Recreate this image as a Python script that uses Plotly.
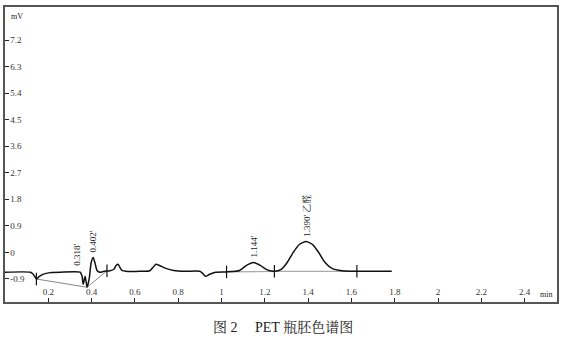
import plotly.graph_objects as go

# chromatogram trace (time in min, signal in mV)
t = [0.000, 0.117, 0.128, 0.138, 0.145, 0.156, 0.170, 0.190, 0.215, 0.255, 0.347, 0.356,
     0.361, 0.370, 0.379, 0.389, 0.398, 0.407, 0.416, 0.425, 0.439, 0.457,
     0.485, 0.503, 0.513, 0.522, 0.531, 0.540, 0.559, 0.623, 0.669, 0.683,
     0.697, 0.715, 0.743, 0.779, 0.830, 0.899, 0.913, 0.926, 0.945, 0.972,
     1.023, 1.083, 1.115, 1.147, 1.179, 1.211, 1.244, 1.276, 1.303, 1.331,
     1.359, 1.391, 1.423, 1.451, 1.478, 1.510, 1.556, 1.625, 1.726, 1.786]
mv = [-0.67, -0.67, -0.72, -0.82, -0.90, -0.83, -0.76, -0.71, -0.68, -0.67, -0.67, -0.81,
      -1.08, -0.81, -1.18, -0.88, -0.34, -0.17, -0.37, -0.61, -0.67, -0.64,
      -0.62, -0.57, -0.44, -0.40, -0.51, -0.61, -0.64, -0.64, -0.62, -0.51,
      -0.40, -0.45, -0.54, -0.61, -0.64, -0.64, -0.71, -0.81, -0.74, -0.67,
      -0.66, -0.61, -0.44, -0.34, -0.44, -0.59, -0.64, -0.57, -0.34, 0.00,
      0.27, 0.37, 0.25, -0.03, -0.34, -0.54, -0.62, -0.64, -0.64, -0.64]

# integration baselines
base1_t = [0.145, 0.379, 0.471]
base1_v = [-0.90, -1.18, -0.62]
base2_t = [1.023, 1.244, 1.625]
base2_v = [-0.66, -0.64, -0.64]

# integration marks
mark_t = [0.145, 0.471, 1.023, 1.244, 1.625]
mark_v = [-0.90, -0.62, -0.66, -0.64, -0.64]

# peak labels
lab_t = [0.333, 0.407, 1.150, 1.391]
lab_v = [-0.62, -0.17, -0.34, 0.37]
lab_txt = ["0.318'", "0.402'", "1.144'", "1.390' 乙醛"]

y_ticks = [-0.9, 0, 0.9, 1.8, 2.7, 3.6, 4.5, 5.4, 6.3, 7.2]
y_labels = ["-0.9", "0", "0.9", "1.8", "2.7", "3.6", "4.5", "5.4", "6.3", "7.2"]
x_ticks = [0.2, 0.4, 0.6, 0.8, 1.0, 1.2, 1.4, 1.6, 1.8, 2.0, 2.2, 2.4]
x_labels = ["0.2", "0.4", "0.6", "0.8", "1", "1.2", "1.4", "1.6", "1.8", "2", "2.2", "2.4"]

SERIF = "Liberation Serif, Times New Roman, serif"
CJK = "Liberation Serif, Noto Serif CJK SC, Noto Sans CJK SC, serif"

fig = go.Figure()
fig.add_trace(go.Scatter(x=base1_t, y=base1_v, mode="lines",
                         line=dict(color="#888888", width=1), hoverinfo="skip"))
fig.add_trace(go.Scatter(x=base2_t, y=base2_v, mode="lines",
                         line=dict(color="#aaaaaa", width=1.2), hoverinfo="skip"))
fig.add_trace(go.Scatter(x=t, y=mv, mode="lines",
                         line=dict(color="#111111", width=1.5, shape="spline", smoothing=0.6)))
fig.add_trace(go.Scatter(x=mark_t, y=mark_v, mode="markers",
                         marker=dict(symbol="line-ns", size=9,
                                     line=dict(color="#111111", width=1.2))))

for xx, yy, tx in zip(lab_t, lab_v, lab_txt):
    fig.add_annotation(x=xx, y=yy, text=tx, textangle=-90, showarrow=False,
                       xanchor="center", yanchor="bottom", yshift=3,
                       font=dict(family=CJK, size=9, color="#222222"))

fig.add_annotation(xref="paper", yref="paper", x=0.008, y=0.99, text="mV",
                   showarrow=False, xanchor="left", yanchor="top",
                   font=dict(family=SERIF, size=8, color="#222222"))
fig.add_annotation(xref="paper", yref="paper", x=0.995, y=0.005, text="min",
                   showarrow=False, xanchor="right", yanchor="bottom",
                   font=dict(family=SERIF, size=8, color="#222222"))
fig.add_annotation(xref="paper", yref="paper", x=0.5045, y=-0.055,
                   text="图 2&nbsp;&nbsp;&nbsp;&nbsp;&nbsp;PET 瓶胚色谱图",
                   showarrow=False, xanchor="center", yanchor="top",
                   font=dict(family=CJK, size=14, color="#222222"))

fig.update_xaxes(range=[0, 2.549], tickvals=x_ticks, ticktext=x_labels,
                 ticks="inside", ticklen=4, tickcolor="#222222",
                 ticklabelposition="inside", showgrid=False, zeroline=False,
                 showline=True, mirror=True, linecolor="#555555", linewidth=2,
                 tickfont=dict(family=SERIF, size=9, color="#333333"))
fig.update_yaxes(range=[-1.68, 8.32], tickvals=y_ticks, ticktext=y_labels,
                 ticks="inside", ticklen=4, tickcolor="#222222",
                 ticklabelposition="inside", showgrid=False, zeroline=False,
                 showline=True, mirror=True, linecolor="#555555", linewidth=2,
                 tickfont=dict(family=SERIF, size=9, color="#333333"))

fig.update_layout(width=564, height=345, margin=dict(l=5, r=5, t=5, b=43),
                  paper_bgcolor="white", plot_bgcolor="white", showlegend=False)

fig.write_html("out.html")
